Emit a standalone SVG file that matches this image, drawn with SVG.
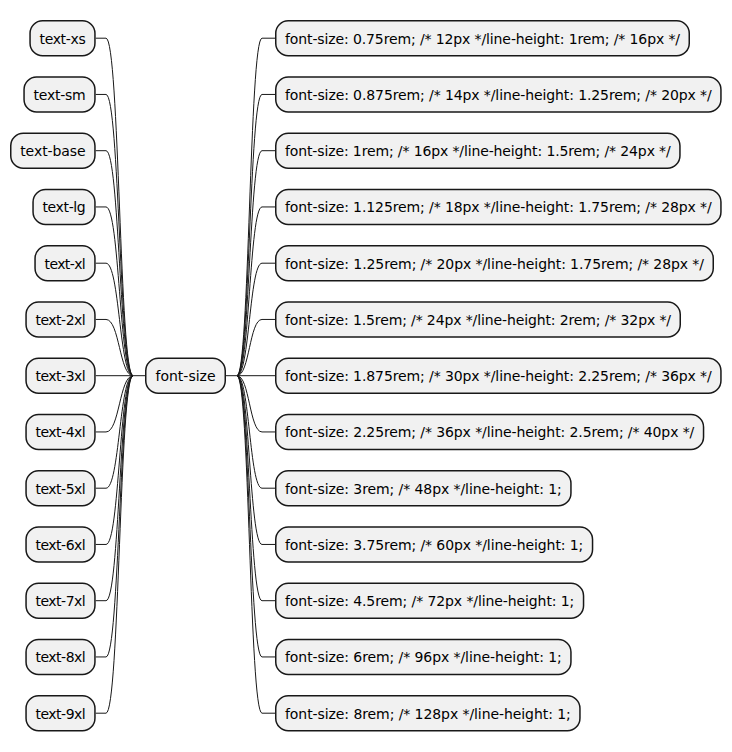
<svg xmlns="http://www.w3.org/2000/svg" width="732" height="752" viewBox="0 0 732 752">
<style>
.n rect{fill:#F1F1F1;stroke:#181818;stroke-width:1.5}
.n text{font-family:"DejaVu Sans",sans-serif;font-size:14px;fill:#000}
#links path{fill:none;stroke:#181818;stroke-width:1}
</style>
<rect width="732" height="752" fill="#FFFFFF"/>
<g id="links">
<path d="M95.7,38.2 L106,38.2 C119.5,38.2 119.5,375.7 133,375.7"/>
<path d="M95.7,94.45 L106,94.45 C119.5,94.45 119.5,375.7 133,375.7"/>
<path d="M95.7,150.7 L106,150.7 C119.5,150.7 119.5,375.7 133,375.7"/>
<path d="M95.7,206.95 L106,206.95 C119.5,206.95 119.5,375.7 133,375.7"/>
<path d="M95.7,263.2 L106,263.2 C119.5,263.2 119.5,375.7 133,375.7"/>
<path d="M95.7,319.45 L106,319.45 C119.5,319.45 119.5,375.7 133,375.7"/>
<path d="M95.7,375.7 L145,375.7"/>
<path d="M95.7,431.95 L106,431.95 C119.5,431.95 119.5,375.7 133,375.7"/>
<path d="M95.7,488.2 L106,488.2 C119.5,488.2 119.5,375.7 133,375.7"/>
<path d="M95.7,544.45 L106,544.45 C119.5,544.45 119.5,375.7 133,375.7"/>
<path d="M95.7,600.7 L106,600.7 C119.5,600.7 119.5,375.7 133,375.7"/>
<path d="M95.7,656.95 L106,656.95 C119.5,656.95 119.5,375.7 133,375.7"/>
<path d="M95.7,713.2 L106,713.2 C119.5,713.2 119.5,375.7 133,375.7"/>
<path d="M226,375.7 L237,375.7"/>
<path d="M237,375.7 C249.5,375.7 249.5,38.2 262,38.2 L275,38.2"/>
<path d="M237,375.7 C249.5,375.7 249.5,94.45 262,94.45 L275,94.45"/>
<path d="M237,375.7 C249.5,375.7 249.5,150.7 262,150.7 L275,150.7"/>
<path d="M237,375.7 C249.5,375.7 249.5,206.95 262,206.95 L275,206.95"/>
<path d="M237,375.7 C249.5,375.7 249.5,263.2 262,263.2 L275,263.2"/>
<path d="M237,375.7 C249.5,375.7 249.5,319.45 262,319.45 L275,319.45"/>
<path d="M237,375.7 L275,375.7"/>
<path d="M237,375.7 C249.5,375.7 249.5,431.95 262,431.95 L275,431.95"/>
<path d="M237,375.7 C249.5,375.7 249.5,488.2 262,488.2 L275,488.2"/>
<path d="M237,375.7 C249.5,375.7 249.5,544.45 262,544.45 L275,544.45"/>
<path d="M237,375.7 C249.5,375.7 249.5,600.7 262,600.7 L275,600.7"/>
<path d="M237,375.7 C249.5,375.7 249.5,656.95 262,656.95 L275,656.95"/>
<path d="M237,375.7 C249.5,375.7 249.5,713.2 262,713.2 L275,713.2"/>
</g>
<g id="root" class="n"><rect x="145.75" y="358.25" width="79.5" height="34.9" rx="12.5"/><text x="155.5" y="381.2" textLength="60">font-size</text></g>
<g id="text-xs" class="n"><rect x="30.05" y="20.75" width="64.9" height="34.9" rx="12.5"/><text x="39.5" y="43.7" textLength="46.2">text-xs</text></g>
<g id="text-sm" class="n"><rect x="24.05" y="77" width="70.9" height="34.9" rx="12.5"/><text x="33.5" y="99.95" textLength="52.2">text-sm</text></g>
<g id="text-base" class="n"><rect x="10.75" y="133.25" width="84.2" height="34.9" rx="12.5"/><text x="20.2" y="156.2" textLength="65.5">text-base</text></g>
<g id="text-lg" class="n"><rect x="33.05" y="189.5" width="61.9" height="34.9" rx="12.5"/><text x="42.5" y="212.45" textLength="43.2">text-lg</text></g>
<g id="text-xl" class="n"><rect x="35.05" y="245.75" width="59.9" height="34.9" rx="12.5"/><text x="44.5" y="268.7" textLength="41.2">text-xl</text></g>
<g id="text-2xl" class="n"><rect x="26.05" y="302" width="68.9" height="34.9" rx="12.5"/><text x="35.5" y="324.95" textLength="50.2">text-2xl</text></g>
<g id="text-3xl" class="n"><rect x="26.05" y="358.25" width="68.9" height="34.9" rx="12.5"/><text x="35.5" y="381.2" textLength="50.2">text-3xl</text></g>
<g id="text-4xl" class="n"><rect x="26.05" y="414.5" width="68.9" height="34.9" rx="12.5"/><text x="35.5" y="437.45" textLength="50.2">text-4xl</text></g>
<g id="text-5xl" class="n"><rect x="26.05" y="470.75" width="68.9" height="34.9" rx="12.5"/><text x="35.5" y="493.7" textLength="50.2">text-5xl</text></g>
<g id="text-6xl" class="n"><rect x="26.05" y="527" width="68.9" height="34.9" rx="12.5"/><text x="35.5" y="549.95" textLength="50.2">text-6xl</text></g>
<g id="text-7xl" class="n"><rect x="26.05" y="583.25" width="68.9" height="34.9" rx="12.5"/><text x="35.5" y="606.2" textLength="50.2">text-7xl</text></g>
<g id="text-8xl" class="n"><rect x="26.05" y="639.5" width="68.9" height="34.9" rx="12.5"/><text x="35.5" y="662.45" textLength="50.2">text-8xl</text></g>
<g id="text-9xl" class="n"><rect x="26.05" y="695.75" width="68.9" height="34.9" rx="12.5"/><text x="35.5" y="718.7" textLength="50.2">text-9xl</text></g>
<g id="r0" class="n"><rect x="275.75" y="20.75" width="413.5" height="34.9" rx="12.5"/><text x="285" y="43.7" textLength="395">font-size: 0.75rem; /* 12px */line-height: 1rem; /* 16px */</text></g>
<g id="r1" class="n"><rect x="275.75" y="77" width="445.2" height="34.9" rx="12.5"/><text x="285" y="99.95" textLength="426.7">font-size: 0.875rem; /* 14px */line-height: 1.25rem; /* 20px */</text></g>
<g id="r2" class="n"><rect x="275.75" y="133.25" width="404.2" height="34.9" rx="12.5"/><text x="285" y="156.2" textLength="385.7">font-size: 1rem; /* 16px */line-height: 1.5rem; /* 24px */</text></g>
<g id="r3" class="n"><rect x="275.75" y="189.5" width="445.2" height="34.9" rx="12.5"/><text x="285" y="212.45" textLength="426.7">font-size: 1.125rem; /* 18px */line-height: 1.75rem; /* 28px */</text></g>
<g id="r4" class="n"><rect x="275.75" y="245.75" width="437.5" height="34.9" rx="12.5"/><text x="285" y="268.7" textLength="419">font-size: 1.25rem; /* 20px */line-height: 1.75rem; /* 28px */</text></g>
<g id="r5" class="n"><rect x="275.75" y="302" width="404.5" height="34.9" rx="12.5"/><text x="285" y="324.95" textLength="386">font-size: 1.5rem; /* 24px */line-height: 2rem; /* 32px */</text></g>
<g id="r6" class="n"><rect x="275.75" y="358.25" width="445.2" height="34.9" rx="12.5"/><text x="285" y="381.2" textLength="426.7">font-size: 1.875rem; /* 30px */line-height: 2.25rem; /* 36px */</text></g>
<g id="r7" class="n"><rect x="275.75" y="414.5" width="427.8" height="34.9" rx="12.5"/><text x="285" y="437.45" textLength="409.3">font-size: 2.25rem; /* 36px */line-height: 2.5rem; /* 40px */</text></g>
<g id="r8" class="n"><rect x="275.75" y="470.75" width="295.2" height="34.9" rx="12.5"/><text x="285" y="493.7" textLength="276.7">font-size: 3rem; /* 48px */line-height: 1;</text></g>
<g id="r9" class="n"><rect x="275.75" y="527" width="316.8" height="34.9" rx="12.5"/><text x="285" y="549.95" textLength="298.3">font-size: 3.75rem; /* 60px */line-height: 1;</text></g>
<g id="r10" class="n"><rect x="275.75" y="583.25" width="307.8" height="34.9" rx="12.5"/><text x="285" y="606.2" textLength="289.3">font-size: 4.5rem; /* 72px */line-height: 1;</text></g>
<g id="r11" class="n"><rect x="275.75" y="639.5" width="295.2" height="34.9" rx="12.5"/><text x="285" y="662.45" textLength="276.7">font-size: 6rem; /* 96px */line-height: 1;</text></g>
<g id="r12" class="n"><rect x="275.75" y="695.75" width="304.2" height="34.9" rx="12.5"/><text x="285" y="718.7" textLength="285.7">font-size: 8rem; /* 128px */line-height: 1;</text></g>
</svg>
